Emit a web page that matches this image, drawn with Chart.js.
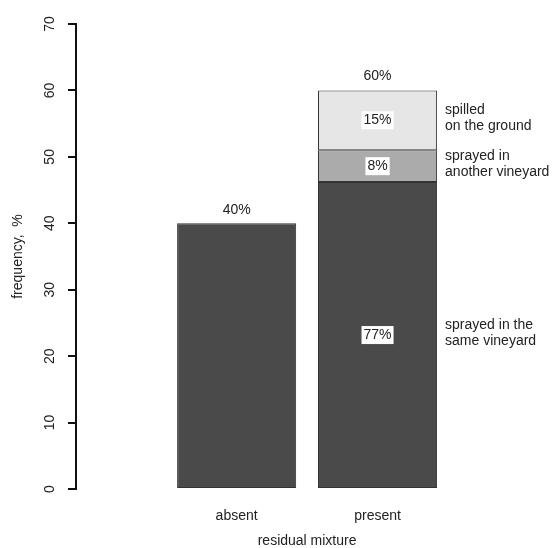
<!DOCTYPE html>
<html>
<head>
<meta charset="utf-8">
<script src="https://cdn.jsdelivr.net/npm/chart.js@4.4.0/dist/chart.umd.min.js"></script>
<style>
  html, body { margin: 0; padding: 0; background: #fff; }
  #wrap { width: 552px; height: 548px; }
</style>
</head>
<body>
<div id="wrap"><canvas id="chart" width="552" height="548"></canvas></div>
<script>
  // data
  var CATEGORIES = ['absent', 'present'];
  var TOTALS = [40, 60];
  var SOURCES = [['sprayed in the', 'same vineyard'], ['sprayed in', 'another vineyard'], ['spilled', 'on the ground']];
  var SOURCE_SHARES = [77, 8, 15];
  var Y_TICKS = [0, 10, 20, 30, 40, 50, 60, 70];

  var FONT = "'Liberation Sans', Arial, sans-serif";
  var COLORS = ['#4a4a4a', '#ababab', '#e6e6e6'];
  var INK = '#222';

  var datasets = [{
    label: CATEGORIES[0],
    data: [{ x: 1, y: TOTALS[0] }],
    backgroundColor: COLORS[0]
  }];
  SOURCE_SHARES.forEach(function (s, i) {
    datasets.push({
      label: SOURCES[i].join(' '),
      data: [{ x: 2, y: TOTALS[1] * s / 100 }],
      backgroundColor: COLORS[i]
    });
  });
  datasets.forEach(function (d) {
    d.borderColor = '#333';
    d.borderWidth = 1;
    d.borderSkipped = false;
    d.barPercentage = 0.845;
    d.categoryPercentage = 1;
  });

  var labelsPlugin = {
    id: 'labels',
    afterDraw: function (chart) {
      var ctx = chart.ctx;
      var ys = chart.scales.y;
      var xs = chart.scales.x;
      ctx.save();
      ctx.fillStyle = INK;
      ctx.font = '14px ' + FONT;
      ctx.textAlign = 'center';
      ctx.textBaseline = 'middle';

      // y tick labels, rotated like R
      Y_TICKS.forEach(function (t) {
        var py = ys.getPixelForValue(t);
        ctx.save();
        ctx.translate(50, py);
        ctx.rotate(-Math.PI / 2);
        ctx.fillText(String(t), 0, 0);
        ctx.restore();
      });
      // y title
      ctx.save();
      ctx.translate(18, (ys.top + ys.bottom) / 2);
      ctx.rotate(-Math.PI / 2);
      ctx.fillText('frequency,  %', 0, 0);
      ctx.restore();

      // x title, centred under the bars
      var midX = (xs.getPixelForValue(1) + xs.getPixelForValue(CATEGORIES.length)) / 2;
      ctx.fillText('residual mixture', midX, 541);

      // totals above bars
      var absBar = chart.getDatasetMeta(0).data[0];
      ctx.fillText(TOTALS[0] + '%', absBar.x, absBar.y - 13);
      var topBar = chart.getDatasetMeta(SOURCE_SHARES.length).data[0];
      ctx.fillText(TOTALS[1] + '%', topBar.x, topBar.y - 14);

      // inner share labels + side notes
      SOURCE_SHARES.forEach(function (s, i) {
        var bar = chart.getDatasetMeta(i + 1).data[0];
        var my = (bar.y + bar.base) / 2;
        var txt = s + '%';
        var w = ctx.measureText(txt).width;
        ctx.fillStyle = '#fff';
        ctx.fillRect(bar.x - w / 2 - 2, my - 9, w + 4, 18);
        ctx.fillStyle = INK;
        ctx.textAlign = 'center';
        ctx.fillText(txt, bar.x, my);
        ctx.textAlign = 'left';
        var lines = SOURCES[i];
        var x0 = bar.x + bar.width / 2 + 8;
        lines.forEach(function (ln, k) {
          ctx.fillText(ln, x0, my - 2 + (k - (lines.length - 1) / 2) * 16);
        });
      });
      ctx.restore();
    }
  };

  new Chart(document.getElementById('chart'), {
    type: 'bar',
    data: { datasets: datasets },
    plugins: [labelsPlugin],
    options: {
      responsive: false,
      animation: false,
      layout: { padding: { top: 24, right: 104, left: 0, bottom: 0 } },
      plugins: { legend: { display: false }, tooltip: { enabled: false } },
      scales: {
        x: {
          type: 'linear',
          stacked: true,
          offset: false,
          min: -0.14,
          max: 2.5,
          grid: { display: false },
          border: { display: false },
          afterBuildTicks: function (s) {
            s.ticks = CATEGORIES.map(function (c, i) { return { value: i + 1 }; });
          },
          ticks: {
            padding: 11,
            color: INK,
            font: { family: FONT, size: 14 },
            callback: function (v) { return CATEGORIES[v - 1]; }
          },
          afterFit: function (s) { s.height = 59; }
        },
        y: {
          stacked: true,
          min: 0,
          max: 70,
          afterBuildTicks: function (s) {
            s.ticks = Y_TICKS.map(function (v) { return { value: v }; });
          },
          ticks: { display: false },
          grid: { drawOnChartArea: false, drawTicks: true, tickLength: 8, color: '#111', lineWidth: 2 },
          border: { display: true, color: '#111', width: 2 },
          afterFit: function (s) { s.width = 76; }
        }
      }
    }
  });
</script>
</body>
</html>
